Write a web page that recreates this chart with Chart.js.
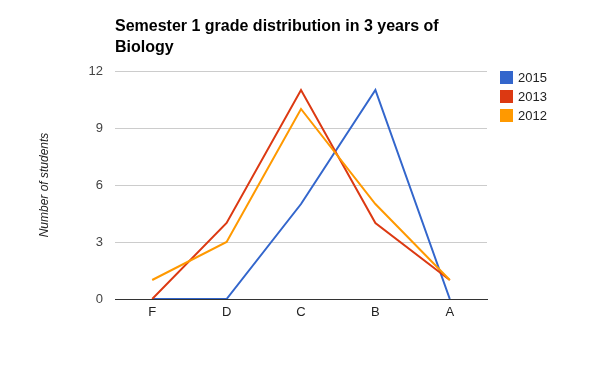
<!DOCTYPE html>
<html>
<head>
<meta charset="utf-8">
<script src="https://cdn.jsdelivr.net/npm/chart.js@4/dist/chart.umd.min.js"></script>
<style>
  html, body { margin: 0; padding: 0; background: #fff; }
  #wrap { width: 600px; height: 371px; }
</style>
</head>
<body>
<div id="wrap"><canvas id="chart" width="600" height="371"></canvas></div>
<script>
// Data
const grades = ["F", "D", "C", "B", "A"];
const years = ["2015", "2013", "2012"];
const students2015 = [0, 0, 5, 11, 0];
const students2013 = [0, 4, 11, 4, 1];
const students2012 = [1, 3, 10, 5, 1];
const yearColors = ["#3366cc", "#dc3912", "#ff9900"];
const titleLines = ["Semester 1 grade distribution in 3 years of", "Biology"];

const FONT = "Arial, 'Liberation Sans', sans-serif";

// Title and legend drawn by hand, Google-chart style
const decorPlugin = {
  id: "decor",
  afterDraw(chart) {
    const ctx = chart.ctx;
    ctx.save();
    ctx.fillStyle = "#000";
    ctx.font = "bold 16px " + FONT;
    ctx.textBaseline = "alphabetic";
    ctx.textAlign = "left";
    titleLines.forEach(function (line, i) {
      ctx.fillText(line, 115, 31 + i * 21);
    });

    ctx.font = "13px " + FONT;
    ctx.textBaseline = "middle";
    chart.data.datasets.forEach(function (ds, i) {
      let y = 77 + i * 19;
      ctx.fillStyle = ds.borderColor;
      ctx.fillRect(500, y - 6, 13, 13);
      ctx.fillStyle = "#222";
      ctx.fillText(ds.label, 518, y + 1);
    });
    ctx.restore();
  }
};

const datasets = [students2015, students2013, students2012].map(function (values, i) {
  return {
    label: years[i],
    data: values,
    borderColor: yearColors[i],
    backgroundColor: yearColors[i],
    borderWidth: 2,
    pointRadius: 0,
    tension: 0,
    order: 3 - i
  };
});

new Chart(document.getElementById("chart"), {
  type: "line",
  data: { labels: grades, datasets: datasets },
  options: {
    responsive: false,
    animation: false,
    layout: { padding: { left: 0, top: 71, right: 113, bottom: 0 } },
    plugins: {
      legend: { display: false },
      title: { display: false },
      tooltip: { enabled: false }
    },
    scales: {
      x: {
        offset: true,
        grid: { display: false, drawTicks: false },
        border: { display: true, color: "#333", width: 1 },
        ticks: { color: "#222", font: { family: FONT, size: 13 }, padding: 6 },
        afterFit: function (scale) { scale.height = 72; }
      },
      y: {
        min: 0,
        max: 12,
        ticks: { stepSize: 3, color: "#444", font: { family: FONT, size: 13 }, padding: 12 },
        grid: {
          drawTicks: false,
          color: function (c) { return c.tick.value === 0 ? "#333" : "#cccccc"; }
        },
        border: { display: false },
        title: {
          display: true,
          text: "Number of students",
          color: "#222",
          font: { family: FONT, size: 12, style: "italic" },
          padding: { top: 37, bottom: 0 }
        },
        afterFit: function (scale) { scale.width = 115; }
      }
    }
  },
  plugins: [decorPlugin]
});
</script>
</body>
</html>
